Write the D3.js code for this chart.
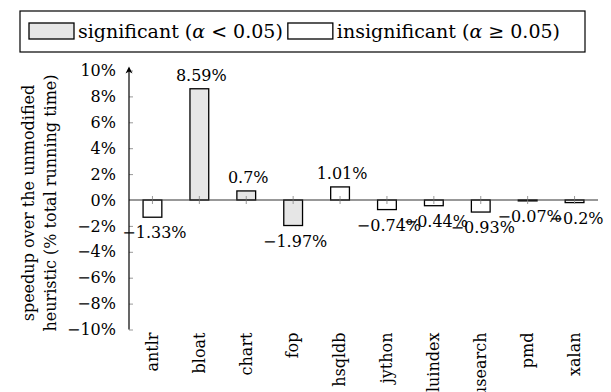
<!DOCTYPE html>
<html>
<head>
<meta charset="utf-8">
<script src="https://cdn.jsdelivr.net/npm/d3@7"></script>
<style>
  html, body { margin: 0; padding: 0; background: #fff; }
  svg { display: block; }
  text { font-family: "DejaVu Serif", "Liberation Serif", serif; fill: #000; }
</style>
</head>
<body>
<svg id="chart" width="611" height="392"></svg>
<script>
// Benchmarks and measured speedups (% of total running time)
const benchmarks = ["antlr", "bloat", "chart", "fop", "hsqldb", "jython", "luindex", "lusearch", "pmd", "xalan"];
const speedups = [-1.33, 8.59, 0.7, -1.97, 1.01, -0.74, -0.44, -0.93, -0.07, -0.2];
const significant = [false, true, true, true, false, false, false, false, false, false];
const yTicks = [-10, -8, -6, -4, -2, 0, 2, 4, 6, 8, 10];
// Legend entries: [text before alpha, text after alpha]
const legendLabels = [["significant (", " < 0.05)"], ["insignificant (", " \u2265 0.05)"]];
const yLabelLines = ["speedup over the unmodified", "heuristic (% total running time)"];

const FS = 16;
const FONT = '"DejaVu Serif", "Liberation Serif", serif';
const fillSig = "#e6e6e6";
const fillInsig = "#ffffff";

const svg = d3.select("#chart");
const plot = { left: 129, right: 598, top: 70.5, bottom: 329.5 };

const x = d3.scaleBand()
  .domain(benchmarks)
  .range([plot.left, plot.right])
  .paddingInner(0.6)
  .paddingOuter(0.3);
const cx = d => x(d) + x.bandwidth() / 2;

const y = d3.scaleLinear().domain([-10, 10]).range([plot.bottom, plot.top]);

const fmt = v => (v < 0 ? "\u2212" : "") + String(Math.abs(v)) + "%";

// Bars
const rows = benchmarks.map((b, i) => ({ b, v: speedups[i], sig: significant[i] }));
svg.append("g").selectAll("rect").data(rows).join("rect")
  .attr("x", d => x(d.b))
  .attr("width", x.bandwidth())
  .attr("y", d => y(Math.max(0, d.v)))
  .attr("height", d => Math.abs(y(d.v) - y(0)))
  .attr("fill", d => d.sig ? fillSig : fillInsig)
  .attr("stroke", "#000")
  .attr("stroke-width", 1.3);

// Category ticks across the zero line
svg.append("g").selectAll("line").data(benchmarks).join("line")
  .attr("x1", d => cx(d)).attr("x2", d => cx(d))
  .attr("y1", y(0) - 4).attr("y2", y(0) + 4)
  .attr("stroke", "#999").attr("stroke-width", 1);

// Zero line (x axis)
svg.append("line")
  .attr("x1", plot.left).attr("x2", plot.right)
  .attr("y1", y(0)).attr("y2", y(0))
  .attr("stroke", "#333").attr("stroke-width", 1.2);

// Y axis with ticks and arrow head
const yAxis = d3.axisLeft(y)
  .tickValues(yTicks)
  .tickSize(-4)
  .tickPadding(13)
  .tickFormat(fmt);
const gy = svg.append("g").attr("transform", `translate(${plot.left},0)`).call(yAxis);
gy.attr("font-family", null).attr("font-size", null);
gy.select(".domain").remove();
gy.selectAll(".tick line").attr("stroke", "#999");
gy.selectAll(".tick text")
  .style("font-family", FONT)
  .style("font-size", FS + "px")
  .attr("fill", "#000");
svg.append("line")
  .attr("x1", plot.left).attr("x2", plot.left)
  .attr("y1", plot.bottom).attr("y2", y(10) - 2)
  .attr("stroke", "#000").attr("stroke-width", 1.2);
const tip = y(10) - 4;
svg.append("path")
  .attr("d", `M${plot.left},${tip} L${plot.left - 3.5},${tip + 7} L${plot.left},${tip + 5} L${plot.left + 3.5},${tip + 7} Z`)
  .attr("fill", "#000");

// Value labels
svg.append("g").selectAll("text").data(rows).join("text")
  .attr("x", d => cx(d.b) + 2)
  .attr("y", d => d.v >= 0 ? y(d.v) - 8 : y(d.v) + 21)
  .attr("text-anchor", "middle")
  .style("font-size", FS + "px")
  .text(d => fmt(d.v));

// Category labels (rotated)
svg.append("g").selectAll("text").data(benchmarks).join("text")
  .attr("transform", d => `translate(${cx(d)},${plot.bottom + 3}) rotate(-90)`)
  .attr("dy", "0.33em")
  .attr("text-anchor", "end")
  .style("font-size", FS + "px")
  .text(d => d);

// Y axis title (two lines)
const yTitle = svg.append("text")
  .attr("transform", `translate(0,${203}) rotate(-90)`)
  .attr("text-anchor", "middle")
  .style("font-size", FS + "px");
yTitle.selectAll("tspan").data(yLabelLines).join("tspan")
  .attr("x", 0)
  .attr("y", (d, i) => 34 + i * 22)
  .text(d => d);

// Legend
const lg = svg.append("g");
lg.append("rect")
  .attr("x", 20).attr("y", 11).attr("width", 565).attr("height", 41)
  .attr("fill", "#fff").attr("stroke", "#000").attr("stroke-width", 1.2);
let lx = 29;
legendLabels.forEach((parts, i) => {
  lg.append("rect")
    .attr("x", lx).attr("y", 23).attr("width", 45).attr("height", 16)
    .attr("fill", i === 0 ? fillSig : fillInsig)
    .attr("stroke", "#000").attr("stroke-width", 1.3);
  const tx = lg.append("text")
    .attr("x", lx + 49).attr("y", 38)
    .style("font-size", "19px");
  tx.append("tspan").text(parts[0]);
  tx.append("tspan").style("font-style", "italic").text("\u03B1");
  tx.append("tspan").text(parts[1]);
  lx = lx + 49 + tx.node().getComputedTextLength() + 5;
});
</script>
</body>
</html>
